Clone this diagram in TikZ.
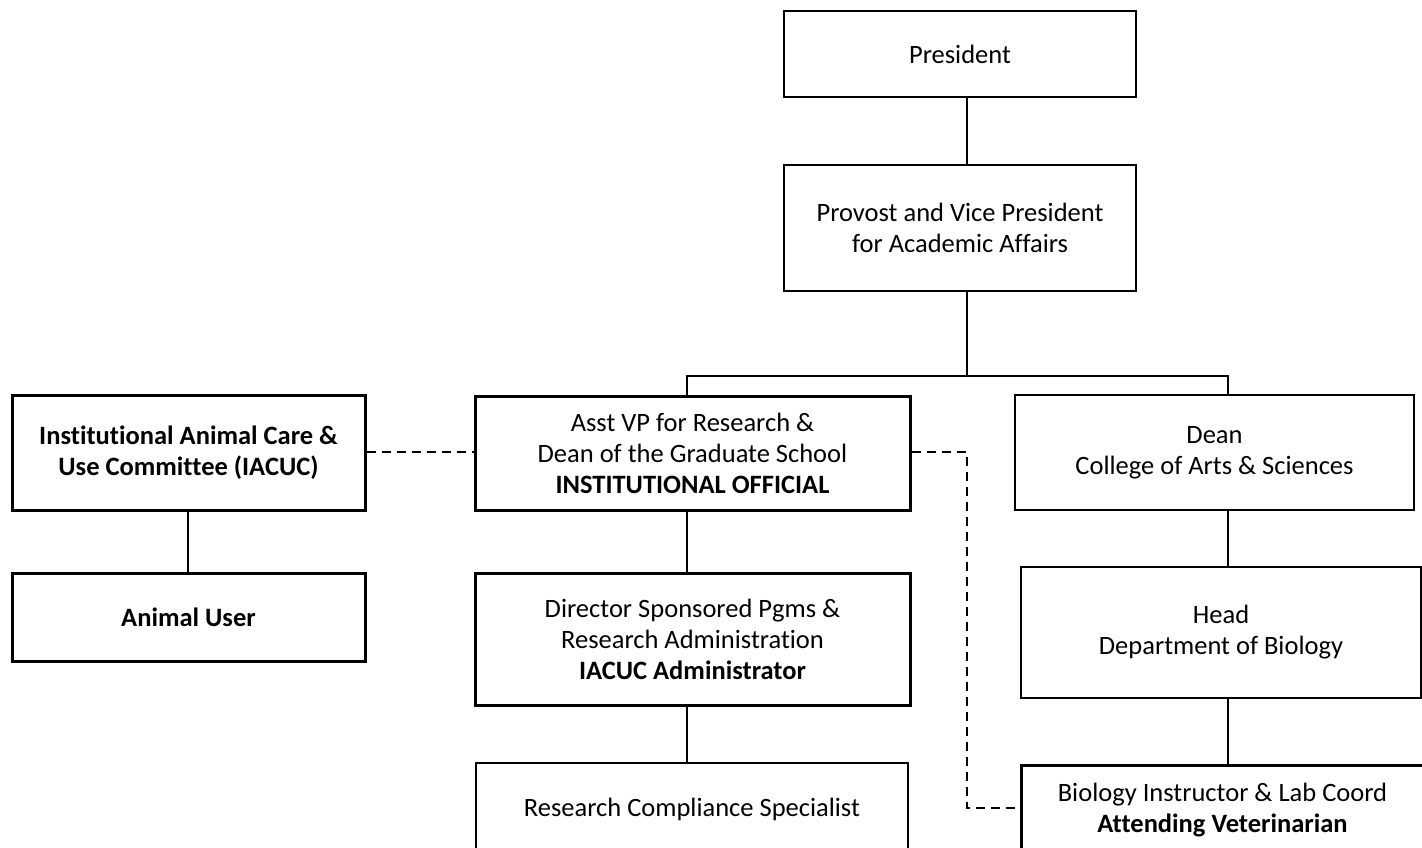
\documentclass[tikz,border=0pt]{standalone}
\usepackage{fontspec}
\setmainfont[Ligatures=NoCommon]{Carlito}
\begin{document}
\begin{tikzpicture}[x=1pt,y=-1pt,
  every node/.style={font=\fontsize{26.5}{31}\selectfont},
  org/.style={draw, rectangle, inner sep=0pt, align=center, line width=1.3pt},
  orgthick/.style={org, line width=3pt},
  orgmid/.style={org, line width=2pt},
  conn/.style={line width=1.3pt},
  dconn/.style={line width=1.3pt, dash pattern=on 9pt off 6pt}]
\useasboundingbox (0,0) rectangle (1422,847);
\node[orgmid, minimum width=352pt, minimum height=86pt] (pres) at (960,54) {President};
\node[org, minimum width=352pt, minimum height=126pt] (prov) at (960,228) {Provost and Vice President\\for Academic Affairs};
\node[orgthick, minimum width=353pt, minimum height=115pt] (iacuc) at (188.5,452.5) {\bfseries Institutional Animal Care \&\\\bfseries Use Committee (IACUC)};
\node[orgthick, minimum width=435pt, minimum height=114pt] (asst) at (692.5,453) {Asst VP for Research \&\\Dean of the Graduate School\\\textbf{INSTITUTIONAL OFFICIAL}};
\node[org, minimum width=399pt, minimum height=115pt] (dean) at (1214.5,452.5) {Dean\\College of Arts \& Sciences};
\node[orgthick, minimum width=353pt, minimum height=88pt] (animal) at (188.5,617) {\textbf{Animal User}};
\node[orgthick, minimum width=435pt, minimum height=132pt] (dir) at (692.5,639) {Director Sponsored Pgms \&\\Research Administration\\\textbf{IACUC Administrator}};
\node[org, minimum width=400pt, minimum height=131pt] (head) at (1221,632.5) {Head\\Department of Biology};
\node[org, minimum width=432pt, minimum height=92pt] (rcs) at (692,809) {Research Compliance Specialist};
\node[orgthick, minimum width=403pt, minimum height=90pt] (bio) at (1222.5,810) {Biology Instructor \& Lab Coord\\\textbf{Attending Veterinarian}};
% connectors
\coordinate (cA) at (967,376);
\coordinate (cL) at (687,376);
\coordinate (cR) at (1228,376);
\coordinate (cU) at (188,0);
\draw[conn] (pres.south -| cA) -- (prov.north -| cA);
\draw[conn] (prov.south -| cA) -- (cA);
\draw[conn] (asst.north -| cL) -- (cL) -- (cR) -- (dean.north -| cR);
\draw[conn] (iacuc.south -| cU) -- (animal.north -| cU);
\draw[conn] (asst.south -| cL) -- (dir.north -| cL);
\draw[conn] (dir.south -| cL) -- (rcs.north -| cL);
\draw[conn] (dean.south -| cR) -- (head.north -| cR);
\draw[conn] (head.south -| cR) -- (bio.north -| cR);
% dashed
\coordinate (dY) at (0,452);
\coordinate (dT) at (967,452);
\coordinate (dB) at (967,808);
\draw[dconn] (iacuc.east |- dY) -- (asst.west |- dY);
\draw[dconn] (asst.east |- dY) -- (dT) -- (dB) -- (bio.west |- dB);
\end{tikzpicture}
\end{document}
